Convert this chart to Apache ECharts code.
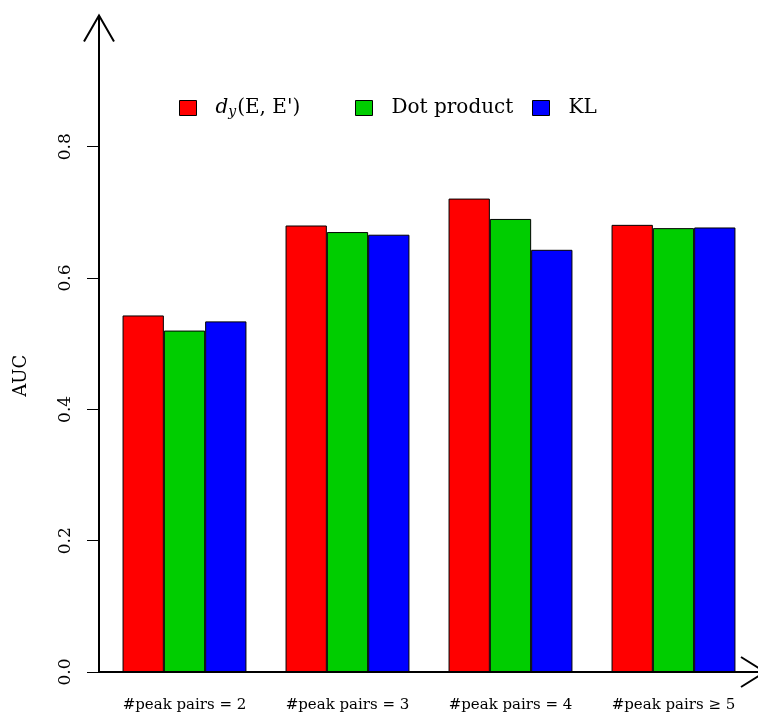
<!DOCTYPE html>
<html>
<head>
<meta charset="utf-8">
<script src="https://cdn.jsdelivr.net/npm/echarts@6/dist/echarts.min.js"></script>
<style>
  html, body { margin: 0; padding: 0; background: #fff; }
  #chart { width: 758px; height: 713px; }
</style>
</head>
<body>
<div id="chart"></div>
<script>
// AUC per number of peak pairs for three similarity measures
const categories = ['#peak pairs = 2', '#peak pairs = 3', '#peak pairs = 4', '#peak pairs \u2265 5'];
const seriesNames = ["d_y(E, E')", 'Dot product', 'KL'];
const dyValues = [0.543, 0.680, 0.721, 0.681];
const dotValues = [0.520, 0.670, 0.690, 0.676];
const klValues = [0.534, 0.666, 0.643, 0.677];
const yTicks = [0, 0.2, 0.4, 0.6, 0.8];

const FONT = 'DejaVu Serif';
const COLORS = ['#FF0000', '#00CD00', '#0000FF'];
const GRID_LEFT = 103;
const Y_OFFSET = 4;

const chart = echarts.init(document.getElementById('chart'), null, { renderer: 'canvas' });

function legendFor(name, left) {
  return {
    data: [name],
    left: left,
    top: 97,
    padding: 0,
    itemWidth: 17,
    itemHeight: 15,
    icon: 'rect',
    selectedMode: false,
    itemStyle: { borderColor: '#000', borderWidth: 1 },
    textStyle: {
      fontFamily: FONT, fontSize: 20, color: '#000', lineHeight: 22,
      padding: [0, 0, 0, 14],
      rich: {
        it: { fontFamily: FONT, fontSize: 20, fontStyle: 'italic', color: '#000' },
        sub: { fontFamily: FONT, fontSize: 14, fontStyle: 'italic', color: '#000', padding: [9, 1, 0, 0] },
        n: { fontFamily: FONT, fontSize: 20, color: '#000' }
      }
    },
    formatter: function (n) {
      if (n === seriesNames[0]) return "{it|d}{sub|y}{n|(E, E')}";
      return n;
    }
  };
}

const values = [dyValues, dotValues, klValues];

chart.setOption({
  animation: false,
  backgroundColor: '#fff',
  textStyle: { fontFamily: FONT },
  grid: { left: GRID_LEFT, right: 3, top: 15.4, bottom: 41, containLabel: false },
  legend: [
    legendFor(seriesNames[0], 179),
    legendFor(seriesNames[1], 355),
    legendFor(seriesNames[2], 532)
  ],
  xAxis: {
    type: 'category',
    data: categories,
    axisLine: { show: false },
    axisTick: { show: false },
    axisLabel: { fontFamily: FONT, fontSize: 15, color: '#000', margin: 26, interval: 0 }
  },
  yAxis: {
    type: 'value',
    min: 0,
    max: 1,
    interval: 0.2,
    offset: Y_OFFSET,
    splitLine: { show: false },
    axisLine: { show: false },
    axisTick: { show: true, length: 12, lineStyle: { color: '#000', width: 1 }, customValues: yTicks },
    axisLabel: {
      fontFamily: FONT, fontSize: 17, color: '#000', rotate: 90, margin: 25,
      customValues: yTicks,
      formatter: function (v) { return v.toFixed(1); }
    },
    name: 'AUC',
    nameLocation: 'middle',
    nameRotate: 90,
    nameGap: 69,
    nameTextStyle: { fontFamily: FONT, fontSize: 18, color: '#000', padding: [0, 64, 0, 0] }
  },
  series: seriesNames.map(function (name, i) {
    return {
      name: name,
      type: 'bar',
      data: values[i],
      barGap: '0%',
      barCategoryGap: '24%',
      itemStyle: { color: COLORS[i], borderColor: '#000', borderWidth: 1 }
    };
  })
});

// Axis lines with open arrowheads, placed from the y scale
const x0 = GRID_LEFT - Y_OFFSET;
const y0 = chart.convertToPixel({ yAxisIndex: 0 }, 0);
const yTop = chart.convertToPixel({ yAxisIndex: 0 }, 1);
const xEnd = chart.getWidth() + 7;
const axisStyle = { stroke: '#000', lineWidth: 2, fill: null };
chart.setOption({
  graphic: [
    { type: 'polyline', shape: { points: [[x0, y0], [x0, yTop]] }, style: axisStyle, z: 100 },
    { type: 'polyline', shape: { points: [[x0 - 15, yTop + 26], [x0, yTop], [x0 + 15, yTop + 26]] }, style: axisStyle, z: 100 },
    { type: 'polyline', shape: { points: [[x0 - 1, y0], [xEnd, y0]] }, style: axisStyle, z: 100 },
    { type: 'polyline', shape: { points: [[xEnd - 24, y0 - 15], [xEnd, y0], [xEnd - 24, y0 + 15]] }, style: axisStyle, z: 100 }
  ]
});
</script>
</body>
</html>
